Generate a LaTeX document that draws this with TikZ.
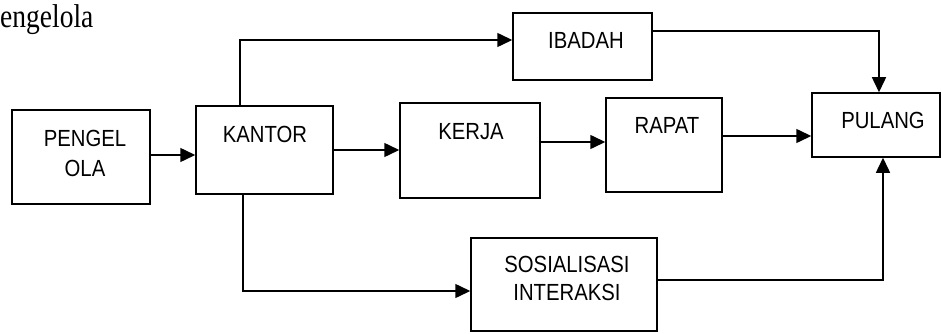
\documentclass[tikz,border=0pt]{standalone}
\usepackage{graphicx}
\usepackage{fontspec}
\setmainfont{Liberation Serif}
\setsansfont{Liberation Sans}
\usetikzlibrary{arrows.meta}
\newcommand\vstretch[1]{\scalebox{1}[1.15]{#1}}
\begin{document}
\begin{tikzpicture}[x=1pt,y=-1pt,
  box/.style={draw=black,line width=1.5pt,inner sep=0pt,rectangle},
  lbl/.style={inner sep=0pt,anchor=center,align=center,font=\sffamily\fontsize{20.3}{28}\selectfont},
  arr/.style={line width=1.5pt,-{Triangle[length=15pt,width=14pt]}},
  ln/.style={line width=1.5pt}]
\useasboundingbox (0,0) rectangle (942,334);
% title
\node[anchor=base west,inner sep=0pt,font=\fontsize{27.5}{30}\selectfont] (title) at (0,28) {\scalebox{1}[1.2]{engelola}};
% boxes
\node[box,minimum width=138pt,minimum height=94pt] (pen) at (81,157) {};
\node[box,minimum width=137pt,minimum height=88pt] (kan) at (264.5,150) {};
\node[box,minimum width=140pt,minimum height=95pt] (ker) at (470,150.5) {};
\node[box,minimum width=116pt,minimum height=94pt] (rap) at (664,145) {};
\node[box,minimum width=128pt,minimum height=64pt] (pul) at (876,125) {};
\node[box,minimum width=139pt,minimum height=67pt] (iba) at (582.5,46.5) {};
\node[box,minimum width=186pt,minimum height=93pt] (sos) at (564,284.5) {};
% labels
\node[lbl,font=\sffamily\fontsize{20.3}{30}\selectfont] (tpen) at (85,153) {\vstretch{PENGEL}\\\vstretch{OLA}};
\node[lbl] (tkan) at (265,134) {\vstretch{KANTOR}};
\node[lbl] (tker) at (471,132) {\vstretch{KERJA}};
\node[lbl] (trap) at (667,125) {\vstretch{RAPAT}};
\node[lbl] (tpul) at (883,120) {\vstretch{PULANG}};
\node[lbl] (tiba) at (586,40) {\vstretch{IBADAH}};
\node[lbl] (tsos) at (567,278.5) {\vstretch{SOSIALISASI}\\\vstretch{INTERAKSI}};
% connectors
\draw[arr] (pen.east |- 0,155) -- (kan.west |- 0,155);
\draw[arr] (kan.east |- 0,150) -- (ker.west |- 0,150);
\draw[arr] (ker.east |- 0,142) -- (rap.west |- 0,142);
\draw[arr] (rap.east |- 0,136) -- (pul.west |- 0,136);
\draw[arr] (kan.north -| 240,0) |- (iba.west |- 0,40);
\draw[arr] (iba.east |- 0,31) -| (pul.north -| 879,0);
\draw[arr] (kan.south -| 243,0) |- (sos.west |- 0,291);
\draw[arr] (sos.east |- 0,280) -| (pul.south -| 883,0);
\end{tikzpicture}
\end{document}
